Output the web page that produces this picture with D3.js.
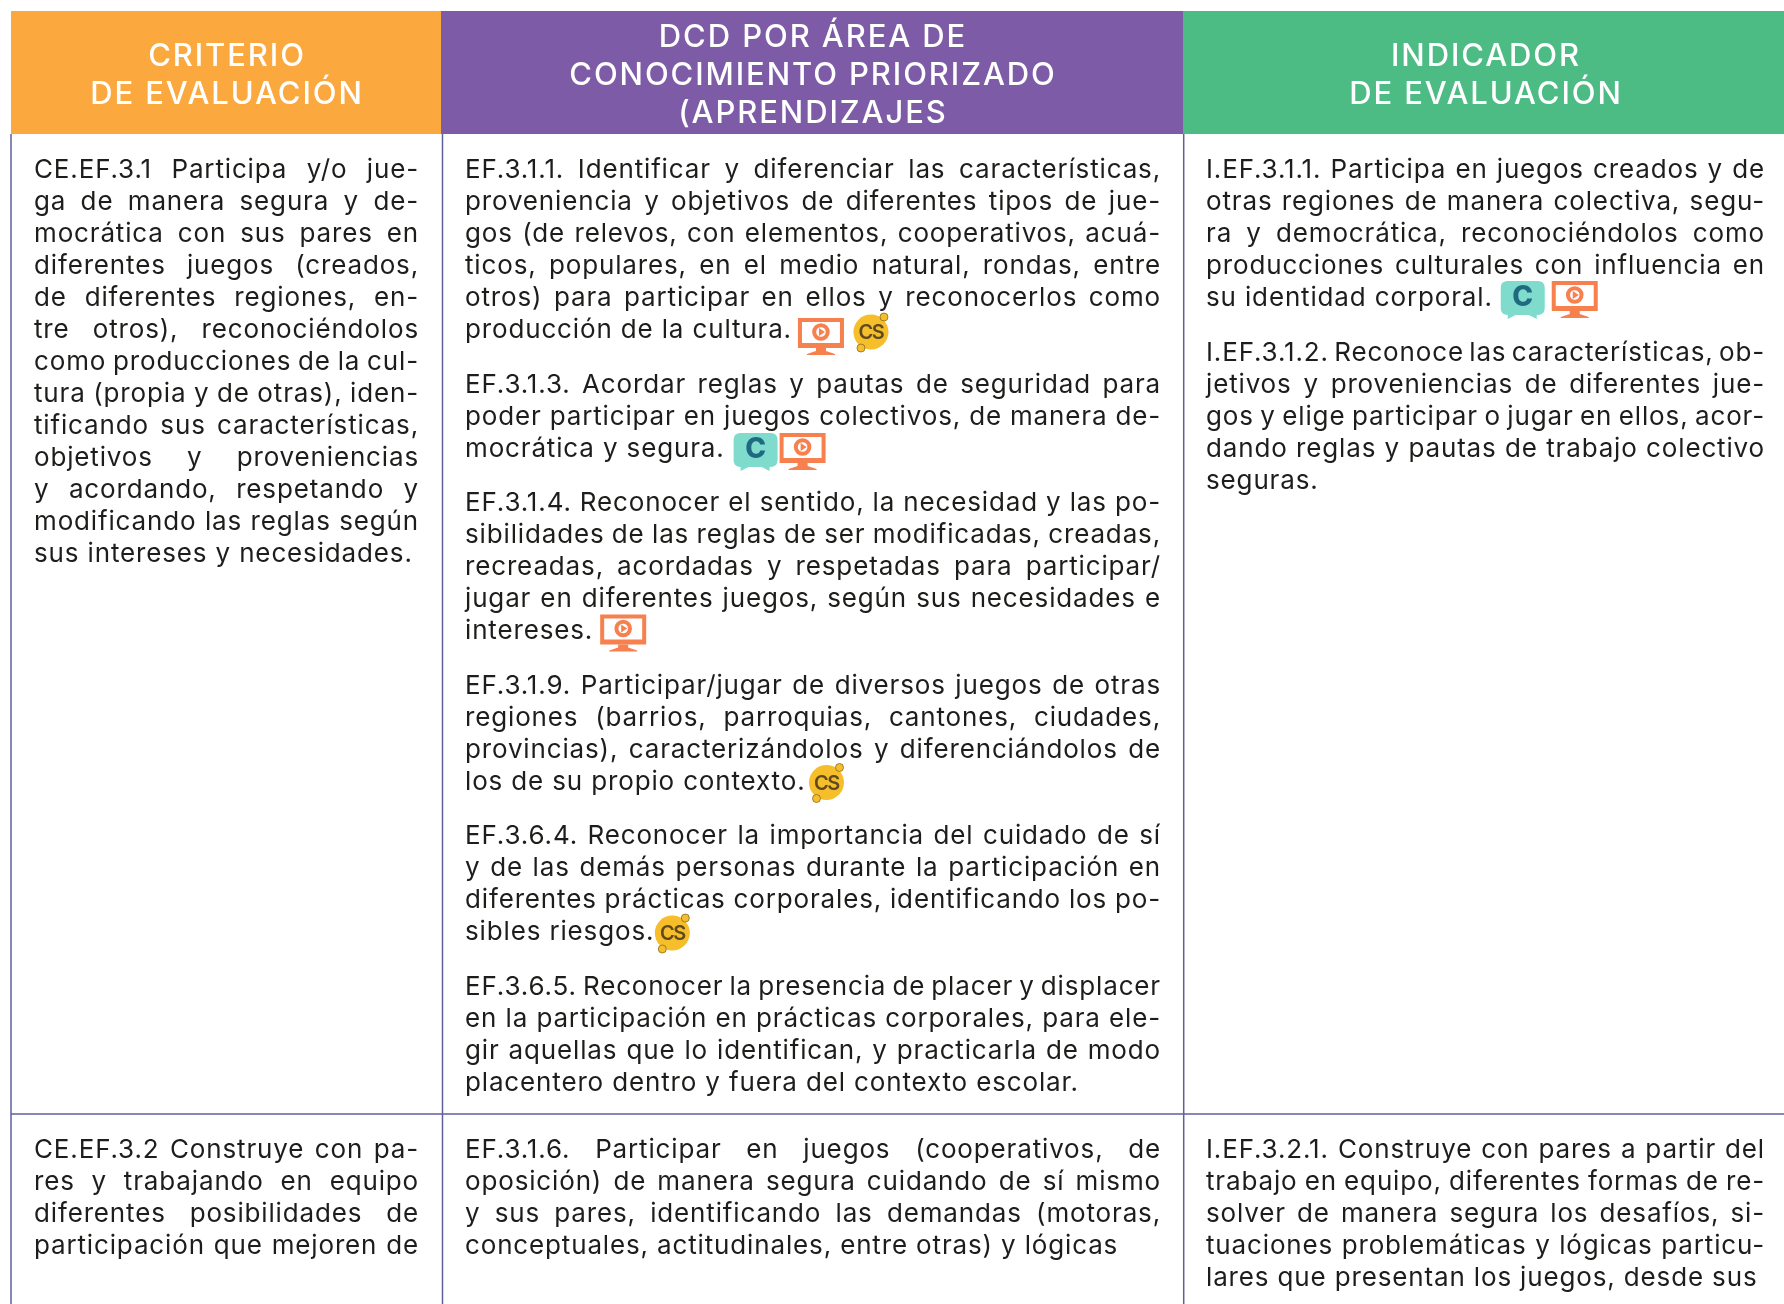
<!DOCTYPE html>
<html>
<head>
<meta charset="utf-8">
<script src="https://cdn.jsdelivr.net/npm/d3@7"></script>
<style>
  html, body { margin: 0; padding: 0; background: #fff; }
  text { font-family: Inter, "Noto Sans", sans-serif; }
  svg { filter: blur(0.4px); }
</style>
</head>
<body>
<div id="chart"></div>
<script>
// table content, one entry per printed line so the breaks match the page
var headers = [
	['CRITERIO', 'DE EVALUACIÓN'],
	['DCD POR ÁREA DE', 'CONOCIMIENTO PRIORIZADO', '(APRENDIZAJES'],
	['INDICADOR', 'DE EVALUACIÓN']
];
var headerColors = ['#fba83f', '#7d5ba6', '#4cbb84'];

var criterio1 = [[
	'CE.EF.3.1 Participa y/o jue-', 'ga de manera segura y de-', 'mocrática con sus pares en',
	'diferentes juegos (creados,', 'de diferentes regiones, en-', 'tre otros), reconociéndolos',
	'como producciones de la cul-', 'tura (propia y de otras), iden-', 'tificando sus características,',
	'objetivos y proveniencias', 'y acordando, respetando y', 'modificando las reglas según',
	'sus intereses y necesidades.'
]];
var destrezas1 = [
	['EF.3.1.1. Identificar y diferenciar las características,', 'proveniencia y objetivos de diferentes tipos de jue-',
	 'gos (de relevos, con elementos, cooperativos, acuá-', 'ticos, populares, en el medio natural, rondas, entre',
	 'otros) para participar en ellos y reconocerlos como', 'producción de la cultura.'],
	['EF.3.1.3. Acordar reglas y pautas de seguridad para', 'poder participar en juegos colectivos, de manera de-', 'mocrática y segura.'],
	['EF.3.1.4. Reconocer el sentido, la necesidad y las po-', 'sibilidades de las reglas de ser modificadas, creadas,',
	 'recreadas, acordadas y respetadas para participar/', 'jugar en diferentes juegos, según sus necesidades e', 'intereses.'],
	['EF.3.1.9. Participar/jugar de diversos juegos de otras', 'regiones (barrios, parroquias, cantones, ciudades,',
	 'provincias), caracterizándolos y diferenciándolos de', 'los de su propio contexto.'],
	['EF.3.6.4. Reconocer la importancia del cuidado de sí', 'y de las demás personas durante la participación en',
	 'diferentes prácticas corporales, identificando los po-', 'sibles riesgos.'],
	['EF.3.6.5. Reconocer la presencia de placer y displacer', 'en la participación en prácticas corporales, para ele-',
	 'gir aquellas que lo identifican, y practicarla de modo', 'placentero dentro y fuera del contexto escolar.']
];
var indicador1 = [
	['I.EF.3.1.1. Participa en juegos creados y de', 'otras regiones de manera colectiva, segu-',
	 'ra y democrática, reconociéndolos como', 'producciones culturales con influencia en', 'su identidad corporal.'],
	['I.EF.3.1.2. Reconoce las características, ob-', 'jetivos y proveniencias de diferentes jue-',
	 'gos y elige participar o jugar en ellos, acor-', 'dando reglas y pautas de trabajo colectivo', 'seguras.']
];
var criterio2 = [['CE.EF.3.2 Construye con pa-', 'res y trabajando en equipo', 'diferentes posibilidades de', 'participación que mejoren de']];
var destrezas2 = [['EF.3.1.6. Participar en juegos (cooperativos, de', 'oposición) de manera segura cuidando de sí mismo',
	'y sus pares, identificando las demandas (motoras,', 'conceptuales, actitudinales, entre otras) y lógicas']];
var indicador2 = [['I.EF.3.2.1. Construye con pares a partir del', 'trabajo en equipo, diferentes formas de re-',
	'solver de manera segura los desafíos, si-', 'tuaciones problemáticas y lógicas particu-', 'lares que presentan los juegos, desde sus']];

// last line of its cell but still set to the full measure
var openEnded = ['participación que mejoren de'];

// which icons follow which line
var lineIcons = {
	'producción de la cultura.': ['monitor', 'cs'],
	'mocrática y segura.': ['bubble', 'monitor'],
	'intereses.': ['monitor'],
	'los de su propio contexto.': ['cs'],
	'sibles riesgos.': ['cs'],
	'su identidad corporal.': ['bubble', 'monitor']
};

var width = 1784, height = 1304;
var fontSize = 26, tracking = 0.85, leading = 32, paraGap = 22.5;
var ink = '#1d1d1b', rule = '#5f5f9c';

var headEdges = [11, 441, 1183, 1784];
var headShift = [1, 1, 2.5];
var ruleX = [11, 442.5, 1183.7];
var rowTop = 134, row2 = 1114;
var colText = [[34, 419], [465, 1161], [1206, 1765]];
var row1Base = 178, row2Base = 1158;

// space before the first icon of a line, between icons, and how far the row sits up
var iconLead = {
	'producción de la cultura.': 6, 'mocrática y segura.': 9, 'intereses.': 7,
	'los de su propio contexto.': 3, 'sibles riesgos.': 0, 'su identidad corporal.': 8
};
var iconGap = {'producción de la cultura.': 9, 'su identidad corporal.': 5};
var iconLift = {
	'producción de la cultura.': 0, 'mocrática y segura.': 3.5, 'intereses.': 4.5,
	'los de su propio contexto.': 1, 'sibles riesgos.': 1, 'su identidad corporal.': 5
};

var svg = d3.select('#chart').append('svg')
	.attr('width', width).attr('height', height)
	.style('display', 'block');

///////////////////////////// header /////////////////////////////
var heads = svg.selectAll('g.head').data(headers).enter().append('g').attr('class', 'head');
heads.append('rect')
	.attr('x', (d, i) => headEdges[i]).attr('y', 11)
	.attr('width', (d, i) => headEdges[i + 1] - headEdges[i]).attr('height', rowTop - 11)
	.attr('fill', (d, i) => headerColors[i]);
heads.each(function(d, i) {
	var cx = (headEdges[i] + headEdges[i + 1]) / 2 + headShift[i];
	var firstBase = d.length === 3 ? 47 : 66;
	d3.select(this).selectAll('text').data(d).enter().append('text')
		.attr('x', cx).attr('y', (t, j) => firstBase + j * 38)
		.attr('text-anchor', 'middle').attr('fill', '#fff')
		.attr('font-size', 31).attr('font-weight', 500).attr('letter-spacing', 1.9)
		.text(t => t);
});

///////////////////////////// rules //////////////////////////////
svg.selectAll('line.v').data(ruleX).enter().append('line')
	.attr('class', 'v')
	.attr('x1', d => d).attr('x2', d => d).attr('y1', rowTop).attr('y2', height)
	.attr('stroke', rule).attr('stroke-width', 1.5);
svg.append('line').attr('x1', 11).attr('x2', width).attr('y1', row2).attr('y2', row2)
	.attr('stroke', rule).attr('stroke-width', 1.5);

///////////////////////////// cells //////////////////////////////
function drawCell(paras, col, base) {
	var g = svg.append('g');
	var y = base;
	var left = colText[col][0], right = colText[col][1];
	paras.forEach(function(lines) {
		lines.forEach(function(line, i) {
			var t = g.append('text')
				.attr('x', left).attr('y', y)
				.attr('font-size', fontSize).attr('fill', ink)
				.attr('letter-spacing', tracking)
				.text(line);
			var natural = t.node().getComputedTextLength();
			var isLast = i === lines.length - 1 && openEnded.indexOf(line) < 0;
			if (!isLast) {
				var gaps = line.split(' ').length - 1;
				if (gaps > 0) t.attr('word-spacing', (right - left - natural) / gaps);
			}
			if (lineIcons[line]) drawIcons(g, line, left + natural + iconLead[line], y - iconLift[line]);
			y += leading;
		});
		y += paraGap;
	});
}

var iconDraw = {monitor: drawMonitor, cs: drawCs, bubble: drawBubble};

function drawIcons(g, line, x, baseline) {
	lineIcons[line].forEach(function(name) {
		var ig = g.append('g').attr('transform', 'translate(' + [x, baseline] + ')');
		x += iconDraw[name](ig) + (iconGap[line] || 0);
	});
}

function drawMonitor(g) {
	var c = '#f6804e';
	g.append('path')
		.attr('fill-rule', 'evenodd').attr('fill', c)
		.attr('d', 'M0,-20 h46 v30 h-46 z M4,-16 v21 h38 v-21 z');
	g.append('path').attr('d', 'M18,10 h10 v3 l9,3 v1 h-28 v-1 l9,-3 z').attr('fill', c);
	g.append('circle').attr('cx', 23).attr('cy', -6).attr('r', 6.8).attr('fill', '#fff').attr('stroke', c).attr('stroke-width', 4);
	g.append('path').attr('d', 'M21,-10 l6,4 l-6,4 z').attr('fill', c);
	return 46;
}

function drawCs(g) {
	var c = '#f5be2a', d = '#8a6a1e';
	g.append('circle').attr('cx', 18).attr('cy', -6).attr('r', 17.5).attr('fill', c);
	g.append('circle').attr('cx', 31).attr('cy', -21).attr('r', 4).attr('fill', c).attr('stroke', d).attr('stroke-width', 0.8);
	g.append('circle').attr('cx', 8).attr('cy', 10).attr('r', 4).attr('fill', c).attr('stroke', d).attr('stroke-width', 0.8);
	g.append('text').attr('x', 18).attr('y', 1).attr('text-anchor', 'middle')
		.attr('font-size', 20).attr('font-weight', 600).attr('fill', '#5f4a1c').attr('letter-spacing', -1.5).text('CS');
	return 36;
}

function drawBubble(g) {
	g.append('path')
		.attr('d', 'M7,-20 h30 q7,0 7,7 v20 q0,7 -7,7 h-1 l0,4 l-8,-4 h-13 l-8,4 l0,-4 h0 q-7,0 -7,-7 v-20 q0,-7 7,-7 z')
		.attr('fill', '#7fdccd');
	g.append('text').attr('x', 22).attr('y', 5).attr('text-anchor', 'middle')
		.attr('font-size', 28).attr('font-weight', 800).attr('fill', '#1f6a80').text('C');
	return 46;
}

drawCell(criterio1, 0, row1Base);
drawCell(destrezas1, 1, row1Base);
drawCell(indicador1, 2, row1Base);
drawCell(criterio2, 0, row2Base);
drawCell(destrezas2, 1, row2Base);
drawCell(indicador2, 2, row2Base);
</script>
</body>
</html>
